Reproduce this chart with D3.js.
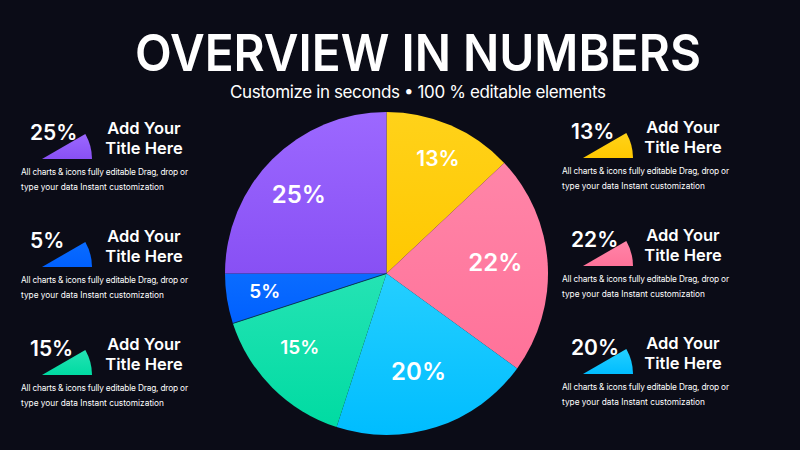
<!DOCTYPE html>
<html>
<head>
<meta charset="utf-8">
<script src="https://d3js.org/d3.v7.min.js"></script>
<style>
  html, body { margin: 0; padding: 0; background: #0b0c17; }
  svg { display: block; }
  text { font-family: Inter, "Noto Sans", sans-serif; fill: #fff; }
</style>
</head>
<body>
<svg width="800" height="450"></svg>
<script>
  // data, clockwise from 12 o'clock
  var names = ["yellow", "pink", "cyan", "green", "blue", "purple"];
  var values = [13, 22, 20, 15, 5, 25];
  var colorsTop = ["#ffd21a", "#ff85a8", "#25cfff", "#25e3b4", "#0a6cff", "#9c68ff"];
  var colorsBottom = ["#ffc800", "#ff7299", "#00bdff", "#00dba2", "#0060ff", "#8850f4"];
  var leftRows = ["purple", "blue", "green"];
  var rightRows = ["yellow", "pink", "cyan"];
  var bodyLines = ["All charts & icons fully editable Drag, drop or", "type your data Instant customization"];
  var titleLines = ["Add Your", "Title Here"];

  // label placement tweaks, same order as values
  var labelDx = [9, 2, -1, -11, -16, -12];
  var labelDy = [-17, -4, -4, -2, 1, -3];
  var labelSize = [21, 24, 24, 19, 19, 24];
  var bodyWidths = [167, 143];

  var svg = d3.select("svg");
  var defs = svg.append("defs");

  svg.append("rect").attr("width", 800).attr("height", 450).attr("fill", "#0b0c17");

  names.forEach(function(n, i) {
    var g = defs.append("linearGradient").attr("id", "grad-" + n)
      .attr("x1", 0).attr("y1", 0).attr("x2", 0).attr("y2", 1);
    g.append("stop").attr("offset", "0%").attr("stop-color", colorsTop[i]);
    g.append("stop").attr("offset", "100%").attr("stop-color", colorsBottom[i]);
  });

  // heading
  svg.append("text").attr("x", 418).attr("y", 71).attr("text-anchor", "middle")
    .attr("font-size", 51).attr("font-weight", 600)
    .attr("textLength", 566).attr("lengthAdjust", "spacingAndGlyphs")
    .text("OVERVIEW IN NUMBERS");
  svg.append("text").attr("x", 418).attr("y", 98).attr("text-anchor", "middle")
    .attr("font-size", 17).attr("font-weight", 400).attr("fill", "#e8e9ee")
    .attr("textLength", 376).attr("lengthAdjust", "spacing")
    .text("Customize in seconds  •  100 % editable elements");

  // main pie
  var pie = d3.pie().sort(null).value(function(d) { return d; });
  var arcs = pie(values);
  var r = 161.5;
  var arc = d3.arc().innerRadius(0).outerRadius(r);
  var labelArc = d3.arc().innerRadius(107).outerRadius(107);

  var gPie = svg.append("g").attr("transform", "translate(386.5,273.5)");
  gPie.selectAll("path").data(arcs).enter().append("path")
    .attr("d", arc)
    .attr("fill", function(d, i) { return "url(#grad-" + names[i] + ")"; });

  // thin dark seam between the blue and green slices
  var seam = d3.pointRadial(arcs[4].startAngle, r);
  gPie.append("line").attr("x1", 0).attr("y1", 0).attr("x2", seam[0]).attr("y2", seam[1])
    .attr("stroke", "#0b3a5a").attr("stroke-width", 1);

  gPie.selectAll("text").data(arcs).enter().append("text")
    .attr("x", function(d, i) { return labelArc.centroid(d)[0] + labelDx[i]; })
    .attr("y", function(d, i) { return labelArc.centroid(d)[1] + labelDy[i]; })
    .attr("dy", "0.36em")
    .attr("text-anchor", "middle")
    .attr("font-weight", 600)
    .attr("font-size", function(d, i) { return labelSize[i]; })
    .text(function(d) { return d.value + "%"; });

  // side blurbs
  var rowY = d3.scalePoint().domain([0, 1, 2]).range([0, 216]);
  var wedge = d3.arc().innerRadius(0).outerRadius(50)
    .startAngle(Math.PI / 3).endAngle(Math.PI / 2);

  function blurbs(rows, ox, oy, titleX) {
    rows.forEach(function(name, i) {
      var v = values[names.indexOf(name)];
      var g = svg.append("g").attr("transform", "translate(" + ox + "," + (oy + rowY(i)) + ")");
      g.append("path").attr("d", wedge()).attr("fill", "url(#grad-" + name + ")");
      g.append("text").attr("x", -12).attr("y", -19)
        .attr("font-size", 21).attr("font-weight", 600).text(v + "%");
      g.selectAll(".t").data(titleLines).enter().append("text").attr("class", "t")
        .attr("x", titleX).attr("y", function(d, j) { return -25 + j * 20; })
        .attr("text-anchor", "middle").attr("font-size", 16.5).attr("font-weight", 600)
        .text(function(d) { return d; });
      g.selectAll(".b").data(bodyLines).enter().append("text").attr("class", "b")
        .attr("x", -21).attr("y", function(d, j) { return 16 + j * 15; })
        .attr("font-size", 8.3).attr("fill", "#cfd0d8")
        .attr("textLength", function(d, j) { return bodyWidths[j]; })
        .attr("lengthAdjust", "spacing")
        .text(function(d) { return d; });
    });
  }
  blurbs(leftRows, 42, 159, 102);
  blurbs(rightRows, 583, 158, 100);
</script>
</body>
</html>
